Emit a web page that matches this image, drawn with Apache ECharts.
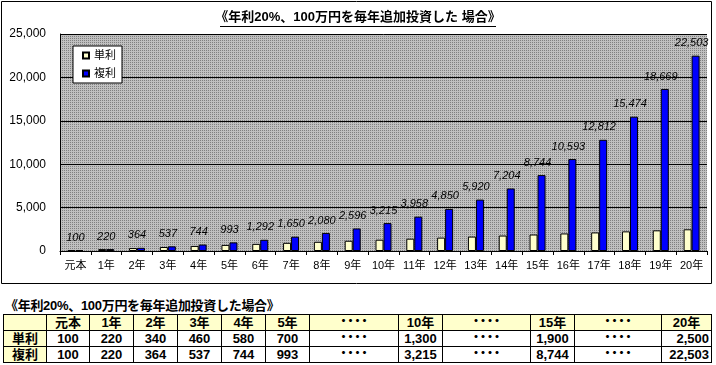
<!DOCTYPE html>
<html>
<head>
<meta charset="utf-8">
<script src="https://cdn.jsdelivr.net/npm/echarts@6/dist/echarts.min.js"></script>
<style>
  html, body { margin: 0; padding: 0; background: #fff; width: 716px; height: 365px; overflow: hidden; }
  #chart { position: absolute; left: 0; top: 0; width: 716px; height: 290px; }
  #ttitle { position: absolute; left: 5px; top: 295px; font: bold 13px "Liberation Sans", "Noto Sans CJK JP", sans-serif; white-space: nowrap; color: #000; letter-spacing: -0.3px; }
  #tbl { position: absolute; left: 3px; top: 314px; border-collapse: collapse; table-layout: fixed;
         font: bold 13px "Liberation Sans", "Noto Sans CJK JP", sans-serif; color: #000; }
  #tbl td { border: 1px solid #000; height: 15px; line-height: 15px; padding: 0 3px; text-align: center; white-space: nowrap; overflow: hidden; }
  #tbl tr.hd td { background: #ffffcc; }
  #tbl td.lb { background: #ffffcc; }
  #tbl td.r { text-align: right; padding-right: 2px; }
  #tbl td.dots { font-size: 12px; letter-spacing: -5px; padding-right: 8px; }
</style>
</head>
<body>
<div id="chart"></div>
<div id="ttitle"></div>
<table id="tbl"></table>
<script>
// ---- data ----
const chartTitle = '《年利20%、100万円を毎年追加投資した 場合》';
const tableTitle = '《年利20%、100万円を毎年追加投資した場合》';
const categories = ['元本','1年','2年','3年','4年','5年','6年','7年','8年','9年','10年','11年','12年','13年','14年','15年','16年','17年','18年','19年','20年'];
const simpleName = '単利';
const compoundName = '複利';
const simpleValues = [100,220,340,460,580,700,820,940,1060,1180,1300,1420,1540,1660,1780,1900,2020,2140,2260,2380,2500];
const compoundValues = [100,220,364,537,744,993,1292,1650,2080,2596,3215,3958,4850,5920,7204,8744,10593,12812,15474,18669,22503];
const yTicks = [0,5000,10000,15000,20000,25000];
// table columns: index into categories, or null for an ellipsis column
const tableColumns = [0,1,2,3,4,5,null,10,null,15,null,20];
const ellipsis = '・・・・';

// ---- chart ----
const fmt = v => Number(v).toLocaleString('en-US');

const pc = document.createElement('canvas');
pc.width = 2; pc.height = 2;
const pctx = pc.getContext('2d');
pctx.fillStyle = '#c0c0c0'; pctx.fillRect(0,0,2,2);
pctx.fillStyle = '#808080'; pctx.fillRect(0,0,1,1);

const chart = echarts.init(document.getElementById('chart'), null, {renderer: 'canvas'});
const numFont = '"Liberation Sans", "Noto Sans CJK JP", sans-serif';
chart.setOption({
  animation: false,
  title: {
    text: chartTitle, left: 'center', top: 11, padding: 0,
    textStyle: { fontSize: 13, fontWeight: 'bold', color: '#000', fontFamily: numFont }
  },
  legend: {
    orient: 'vertical', left: 73, top: 46,
    padding: [4, 6, 4, 9], itemGap: 7,
    itemWidth: 6, itemHeight: 6, icon: 'rect',
    backgroundColor: '#fff', borderColor: '#000', borderWidth: 1,
    textStyle: { fontSize: 11, color: '#000', fontFamily: numFont },
    data: [simpleName, compoundName]
  },
  grid: {
    left: 60, right: 9, top: 34, height: 217,
    show: true, borderWidth: 0,
    backgroundColor: { image: pc, repeat: 'repeat' }
  },
  xAxis: {
    type: 'category', data: categories,
    axisLine: { show: true, lineStyle: { color: '#000', width: 1 } },
    axisTick: { show: true, length: 4, alignWithLabel: false, lineStyle: { color: '#000' } },
    axisLabel: { color: '#000', fontSize: 11, margin: 9, fontFamily: numFont, interval: 0 }
  },
  yAxis: {
    type: 'value', min: yTicks[0], max: yTicks[yTicks.length-1], interval: yTicks[1]-yTicks[0],
    axisLine: { show: true, lineStyle: { color: '#000', width: 1 } },
    axisTick: { show: false },
    splitLine: { show: true, lineStyle: { color: '#000', width: 1 } },
    axisLabel: { color: '#000', fontSize: 12, margin: 14, fontFamily: numFont, formatter: v => fmt(v) }
  },
  series: [
    {
      name: simpleName, type: 'bar', data: simpleValues,
      barWidth: 8, barGap: '0%',
      itemStyle: { color: '#ffffcc', borderColor: '#000', borderWidth: 1 }
    },
    {
      name: compoundName, type: 'bar', data: compoundValues,
      barWidth: 8, barGap: '0%',
      itemStyle: { color: '#0000ff', borderColor: '#000', borderWidth: 1 },
      label: {
        show: true, position: 'top', offset: [-4, -2],
        fontStyle: 'italic', fontSize: 11, color: '#000', fontFamily: numFont,
        formatter: p => fmt(p.value)
      }
    }
  ],
  graphic: [
    { type: 'rect', silent: true, shape: { x: 1.5, y: 1.5, width: 710, height: 282 },
      style: { fill: 'none', stroke: '#000', lineWidth: 1 }, z: 100 },
    { type: 'line', silent: true, shape: { x1: 220, y1: 26.5, x2: 496, y2: 26.5 },
      style: { stroke: '#000', lineWidth: 1 }, z: 100 }
  ]
});

// ---- table ----
document.getElementById('ttitle').textContent = tableTitle;
const colWidths = [43,43,44,44,44,44,44,89,44,88,44,87,50];
const tbl = document.getElementById('tbl');
const cg = document.createElement('colgroup');
colWidths.forEach(w => { const c = document.createElement('col'); c.style.width = w + 'px'; cg.appendChild(c); });
tbl.appendChild(cg);
function addRow(label, cls, getter) {
  const tr = document.createElement('tr');
  if (cls) tr.className = cls;
  const l = document.createElement('td'); l.className = 'lb'; l.textContent = label; tr.appendChild(l);
  tableColumns.forEach((ci, k) => {
    const td = document.createElement('td');
    if (ci === null) { td.textContent = ellipsis; td.className = 'dots'; }
    else { td.textContent = getter(ci); if (k === tableColumns.length - 1 && cls !== 'hd') td.className = 'r'; }
    tr.appendChild(td);
  });
  tbl.appendChild(tr);
}
addRow('', 'hd', i => categories[i]);
addRow(simpleName, '', i => fmt(simpleValues[i]));
addRow(compoundName, '', i => fmt(compoundValues[i]));
</script>
</body>
</html>
